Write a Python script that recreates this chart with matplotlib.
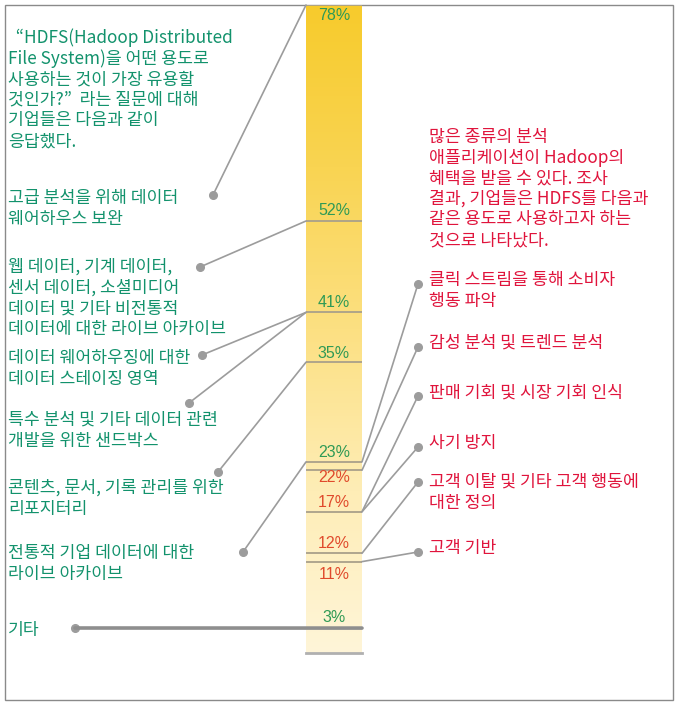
import numpy as np
import matplotlib
matplotlib.use("Agg")
import matplotlib.pyplot as plt
from matplotlib.patches import ConnectionPatch, Rectangle
from matplotlib.colors import LinearSegmentedColormap

plt.rcParams['font.family'] = ['Noto Sans CJK KR', 'DejaVu Sans']

# ---------------- data ----------------
intro_lines = ["  \u201cHDFS(Hadoop Distributed", "File System)을 어떤 용도로",
               "사용하는 것이 가장 유용할", "것인가?\u201d  라는 질문에 대해",
               "기업들은 다음과 같이", "응답했다."]

left_labels = [["고급 분석을 위해 데이터", "웨어하우스 보완"],
               ["웹 데이터, 기계 데이터,", "센서 데이터, 소셜미디어", "데이터 및 기타 비전통적", "데이터에 대한 라이브 아카이브"],
               ["데이터 웨어하우징에 대한", "데이터 스테이징 영역"],
               ["특수 분석 및 기타 데이터 관련", "개발을 위한 샌드박스"],
               ["콘텐츠, 문서, 기록 관리를 위한", "리포지터리"],
               ["전통적 기업 데이터에 대한", "라이브 아카이브"],
               ["기타"]]
left_values = [78, 52, 41, 41, 35, 23, 3]

right_intro = ["많은 종류의 분석", "애플리케이션이 Hadoop의", "혜택을 받을 수 있다. 조사",
               "결과, 기업들은 HDFS를 다음과", "같은 용도로 사용하고자 하는", "것으로 나타났다."]
right_labels = [["클릭 스트림을 통해 소비자", "행동 파악"],
                ["감성 분석 및 트렌드 분석"],
                ["판매 기회 및 시장 기회 인식"],
                ["사기 방지"],
                ["고객 이탈 및 기타 고객 행동에", "대한 정의"],
                ["고객 기반"]]
right_values = [23, 22, 17, 17, 12, 11]

mark_values = [78, 52, 41, 35, 23, 22, 17, 12, 11, 3]
mark_group = ['L', 'L', 'L', 'L', 'L', 'R', 'R', 'R', 'R', 'L']
vmax = 78

# ---------------- layout / style ----------------
W, H = 678, 706
GREEN = '#12926C'
RED = '#E0143C'
PCT_GREEN = '#2F9A55'
PCT_RED = '#E04A2C'
GRAY = '#9C9C9C'
FS = 12.4

left_text_y = [198, 267, 358, 420, 488, 553, 630]
left_dots = [(213, 195), (200, 267), (202, 355), (189, 403), (218, 472), (243, 552), (75, 628)]
right_text_y = [280, 343, 393, 443, 482, 548]
right_dots = [(418, 284), (418, 347), (418, 396), (418, 447), (418, 482), (418, 552)]
label_offsets = [-10, 11, 10, 9, 9, -7, 9, 10, -13, 11]   # pixels (positive = above line)
step = 20.6

fig = plt.figure(figsize=(W / 100, H / 100), dpi=100)
ax = fig.add_axes([0, 0, 1, 1])
ax.set_xlim(0, W)
ax.set_ylim(H, 0)
ax.axis('off')

# frame
ax.add_patch(Rectangle((5, 4.5), 668, 695.5, fill=False, ec='#8A8A8A', lw=1.0))

# bar axes
bx0, bx1, by_top, by_bot = 306, 362, 5, 653
bax = fig.add_axes([bx0 / W, (H - by_bot) / H, (bx1 - bx0) / W, (by_bot - by_top) / H])
bax.set_xlim(0, 1)
bax.set_ylim(0, vmax)
bax.axis('off')
cmap = LinearSegmentedColormap.from_list('g', ['#FFF5D8', '#FEEDB6', '#FCE082', '#F9D452', '#F7CB2C'])
grad = np.linspace(0, 1, 256)[:, None]
bax.imshow(grad, extent=(0, 1, 0, vmax), origin='lower', aspect='auto', cmap=cmap, zorder=0)

# value lines
for v in mark_values:
    if v == 3:
        continue
    bax.plot([0, 1], [v, v], color='#A9A08A', lw=1.3, zorder=2, solid_capstyle='butt')
bax.plot([0, 1], [0, 0], color='#B0B0B0', lw=2.0, zorder=2, clip_on=False)

# percent labels
for v, g, off in zip(mark_values, mark_group, label_offsets):
    bax.annotate(f"{v}%", xy=(0.5, v), xytext=(0, off), textcoords='offset pixels',
                 ha='center', va='center', fontsize=11.5, family=['Liberation Sans', 'DejaVu Sans'],
                 color=PCT_GREEN if g == 'L' else PCT_RED, zorder=3)

# intro text
for i, line in enumerate(intro_lines):
    ax.text(8, 38 + i * step, line, ha='left', va='center', fontsize=FS, color=GREEN)
for i, line in enumerate(right_intro):
    ax.text(429, 137 + i * step, line, ha='left', va='center', fontsize=FS, color=RED)

# left items
for lines, ty, v, dot in zip(left_labels, left_text_y, left_values, left_dots):
    for j, line in enumerate(lines):
        ax.text(8, ty + j * step, line, ha='left', va='center', fontsize=FS, color=GREEN)
    if v == 3:
        con = ConnectionPatch(xyA=(1, v), coordsA=bax.transData, xyB=dot, coordsB=ax.transData,
                              color='#8E8E8E', lw=2.6, zorder=5)
    else:
        con = ConnectionPatch(xyA=(0, v), coordsA=bax.transData, xyB=dot, coordsB=ax.transData,
                              color=GRAY, lw=1.2, zorder=5)
    fig.add_artist(con)
    ax.plot(*dot, 'o', ms=5.5, color=GRAY, zorder=6)

# right items
for lines, ty, v, dot in zip(right_labels, right_text_y, right_values, right_dots):
    for j, line in enumerate(lines):
        ax.text(429, ty + j * step, line, ha='left', va='center', fontsize=FS, color=RED)
    con = ConnectionPatch(xyA=(1, v), coordsA=bax.transData, xyB=dot, coordsB=ax.transData,
                          color=GRAY, lw=1.2, zorder=5)
    fig.add_artist(con)
    ax.plot(*dot, 'o', ms=5.5, color=GRAY, zorder=6)

fig.savefig('out.png', dpi=100)
